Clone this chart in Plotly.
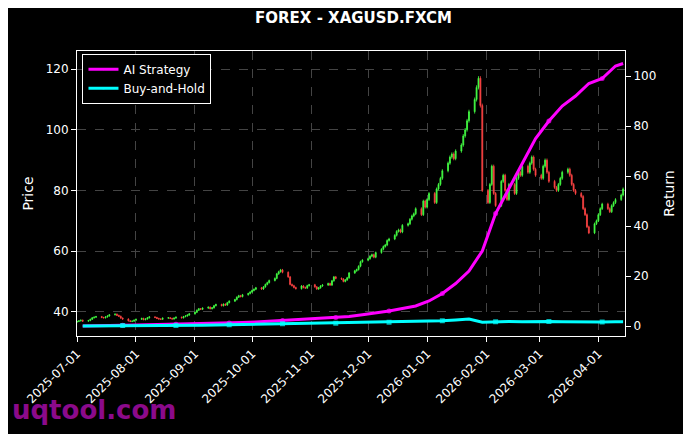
import pandas as pd
import plotly.graph_objects as go

# daily closes (business days from 2025-07-01)
closes = [
    36.8, 37.0, 37.2, 36.9, 37.1, 37.5, 38.0, 38.2, 38.4, 38.1, 38.0, 38.3, 38.6, 39.0, 39.2, 38.8, 38.5, 37.9, 37.6, 37.0, 36.8, 36.9, 37.2,
    37.5, 37.8, 37.4, 37.6, 38.0, 38.3, 38.1, 37.8, 37.6, 37.5, 37.9, 38.0, 37.8, 37.6, 37.9, 38.2, 38.0, 38.4, 38.6, 38.9, 39.3,
    39.8, 40.5, 41.0, 40.8, 41.2, 41.5, 41.0, 41.3, 42.0, 42.4, 42.0, 42.5, 42.2, 43.0, 43.5, 44.0, 44.8, 45.3, 45.0, 45.6, 46.0, 46.5,
    47.0, 47.4, 47.9, 47.5, 48.2, 49.0, 49.6, 50.3, 51.0, 52.5, 53.2, 53.8, 53.0, 51.5, 49.0, 48.6, 48.0, 47.6, 48.5, 48.0, 47.8, 48.6, 48.9,
    48.2, 47.5, 47.9, 48.5, 48.8, 49.3, 48.8, 50.2, 51.5, 51.0, 50.8, 50.0, 50.5, 51.2, 52.8, 53.5, 53.9, 55.0, 56.5, 57.0,
    57.5, 58.3, 58.8, 58.0, 59.5, 60.6, 61.5, 62.0, 63.5, 64.0, 65.2, 66.5, 67.0, 66.3, 68.5, 69.0, 70.5, 71.6, 72.3, 74.0, 72.0, 76.5, 74.5,
    77.0, 79.0, 76.0, 80.5, 82.0, 84.0, 86.5, 89.0, 91.0, 92.0, 90.5, 93.0, 95.0, 98.0, 100.0, 103.0, 106.0, 110.0, 114.0, 117.0, 108.0, 80.0,
    76.0, 82.0, 88.0, 79.0, 75.0, 83.0, 85.0, 80.0, 77.0, 82.0, 79.0, 84.0, 86.0, 85.0, 88.0, 86.0, 89.0, 91.0, 87.0, 85.0,
    84.0, 88.0, 90.0, 86.0, 83.0, 81.0, 80.0, 82.0, 84.0, 86.0, 87.0, 85.0, 82.0, 80.0, 79.0, 78.0, 74.0, 72.0, 68.0, 66.0, 69.0, 70.0,
    72.0, 74.0, 75.5, 74.0, 73.0, 75.0, 76.0, 77.0, 78.5, 80.5,
]

# weekly returns (Fridays from 2025-07-04), last point 2026-04-14
ai_return = [0.0, 0.0, 0.2, 0.3, 0.4, 0.5, 0.6, 0.7, 0.8, 0.9, 1.0, 1.2, 1.4,
             1.6, 1.9, 2.2, 2.5, 2.8, 3.0, 3.4, 3.8, 4.5, 5.2, 6.0, 7.0, 8.0,
             10.0, 13.0, 17.0, 22.0, 30.0, 45.0, 55.0, 65.0, 75.0,
             82.0, 88.0, 92.0, 97.0, 99.0, 104.0, 105.0]
bh_return = [0.0, 0.0, 0.1, 0.2, 0.1, 0.1, 0.2, 0.2, 0.3, 0.3, 0.4, 0.5, 0.6,
             0.7, 0.8, 0.9, 0.9, 1.0, 1.0, 1.1, 1.2, 1.3, 1.4, 1.5, 1.6, 1.7,
             1.9, 2.1, 2.4, 2.8, 1.5, 1.7, 1.8, 1.7, 1.9,
             1.8, 1.7, 1.6, 1.5, 1.6, 1.7, 1.7]

dates = pd.bdate_range("2025-07-01", periods=len(closes))
opens = [closes[0] - 0.2] + closes[:-1]
highs = [max(o, c) * 1.006 for o, c in zip(opens, closes)]
lows = [min(o, c) * 0.994 for o, c in zip(opens, closes)]

ret_dates = list(pd.date_range("2025-07-04", periods=len(ai_return) - 1, freq="W-FRI")) + [pd.Timestamp("2026-04-14")]
marker_sizes = [5 if i % 4 == 3 else 0 for i in range(len(ai_return))]

fig = go.Figure()
fig.add_trace(go.Candlestick(
    x=dates, open=opens, high=highs, low=lows, close=closes,
    increasing=dict(line=dict(color="#44ff44", width=0.8), fillcolor="#44ff44"),
    decreasing=dict(line=dict(color="#ff4444", width=0.8), fillcolor="#ff4444"),
    whiskerwidth=0, showlegend=False, name="XAGUSD",
))
fig.add_trace(go.Scatter(
    x=ret_dates, y=ai_return, yaxis="y2", name="AI Strategy", mode="lines+markers",
    line=dict(color="#ff00ff", width=3),
    marker=dict(size=marker_sizes, color="#ff00ff", symbol="circle", line=dict(width=0)),
))
fig.add_trace(go.Scatter(
    x=ret_dates, y=bh_return, yaxis="y2", name="Buy-and-Hold", mode="lines+markers",
    line=dict(color="#00ffff", width=3),
    marker=dict(size=marker_sizes, color="#00ffff", symbol="square", line=dict(width=0)),
))

grid = dict(showgrid=True, gridcolor="#444444", griddash="dash", gridwidth=0.5)
fig.update_layout(
    width=691, height=434,
    paper_bgcolor="black", plot_bgcolor="black",
    font=dict(family="DejaVu Sans", color="white", size=12),
    title=dict(text="<b>FOREX - XAGUSD.FXCM</b>", x=0.5, xanchor="center", y=0.977, yanchor="middle",
               font=dict(size=15)),
    margin=dict(l=69, r=74, t=43, b=106, autoexpand=False),
    xaxis=dict(type="date", range=["2025-07-01", "2026-04-15"], dtick="M1", tickformat="%Y-%m-%d",
               tickangle=-45, rangeslider=dict(visible=False), showline=True, linecolor="white",
               mirror=True, ticks="outside", tickcolor="white", automargin=False, **grid),
    yaxis=dict(title=dict(text="Price", standoff=8), range=[32, 126], dtick=20, showline=True,
               linecolor="white", ticks="outside", tickcolor="white", zeroline=False,
               automargin=False, **grid),
    yaxis2=dict(title=dict(text="Return", standoff=8), overlaying="y", side="right", range=[-4, 110],
                dtick=20, showgrid=False, zeroline=False, showline=True, linecolor="white",
                ticks="outside", tickcolor="white", automargin=False),
    legend=dict(x=0.01, y=0.99, bgcolor="black", bordercolor="white", borderwidth=1,
                font=dict(size=12)),
    showlegend=True,
)
fig.add_annotation(text="<b>uqtool.com</b>", xref="paper", yref="paper", x=-0.122, y=-0.2,
                   xanchor="left", yanchor="top", showarrow=False,
                   font=dict(size=26, color="#8b0a8b"))

fig.write_html("out.html")
